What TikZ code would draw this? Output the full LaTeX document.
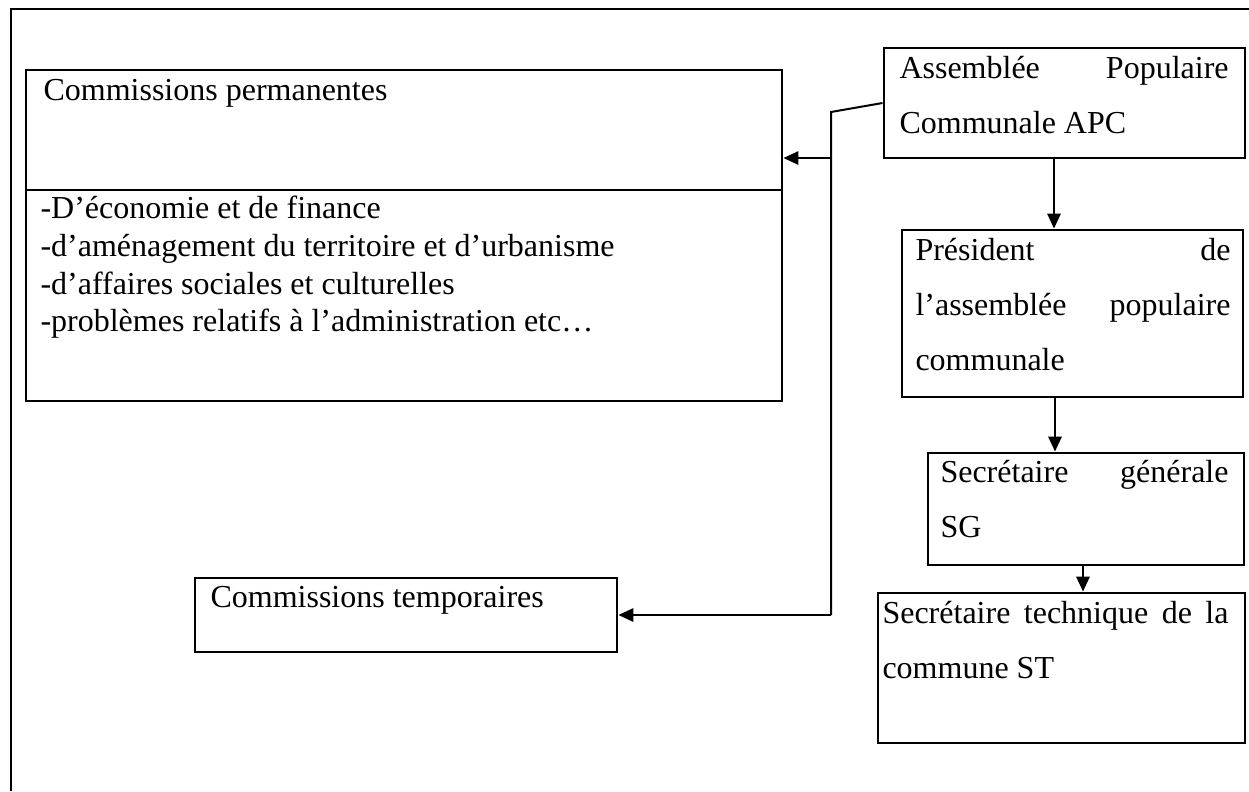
\documentclass[tikz,border=0pt]{standalone}
\usepackage{fontspec}
\setmainfont{Liberation Serif}
\usetikzlibrary{arrows.meta,fit}
\tolerance=10000
\hbadness=10000

\begin{document}
\begin{tikzpicture}[x=0.375pt,y=-0.375pt]
   \tikzstyle{box}=[draw, line width=1.1pt, inner sep=0pt]
   \tikzstyle{txt}=[inner sep=0pt, anchor=base west, font=\fontsize{12}{13.8}\selectfont]
   \tikzstyle{para}=[inner sep=0pt, anchor=north west, align=flush left, font=\fontsize{12}{20.5}\selectfont]
   \tikzstyle{wire}=[line width=0.75pt]
   \tikzstyle{link}=[line width=0.75pt, -{Triangle[length=5.6pt,width=5pt]}]

\useasboundingbox (0,0) rectangle (1249,791);

% frame
\draw[line width=1.1pt] (11,791) -- (11,9) -- (1249,9);

% boxes
\node[box, fit={(26,70) (782,401)}] (perm) {};
\draw[line width=1.1pt] (perm.west |- 0,190) -- (perm.east |- 0,190);
\node[box, fit={(195,578) (617,652)}] (ctemp) {};
\node[box, fit={(884,48) (1245,158)}] (apc) {};
\node[box, fit={(902,230) (1243,397)}] (pres) {};
\node[box, fit={(928,453) (1244,565)}] (sg) {};
\node[box, fit={(878,593) (1245,743)}] (st) {};

% texts
\node[txt] (permtitle) at (43,100) {Commissions permanentes};
\node[txt] (perm1) at (40,218) {-D’économie et de finance};
\node[txt] (perm2) at (40,256) {-d’aménagement du territoire et d’urbanisme};
\node[txt] (perm3) at (40,294) {-d’affaires sociales et culturelles};
\node[txt] (perm4) at (40,331) {-problèmes relatifs à l’administration etc…};
\node[txt] (ctemptitle) at (210,607) {Commissions temporaires};

\node[para, text width=123.4pt] (apctext) at (899,56)
    {Assemblée \hfill Populaire\\ Communale APC};
\node[para, text width=118.1pt] (prestext) at (915,238)
    {Président \hfill de\\ l’assemblée \hfill populaire\\ communale};
\node[para, text width=108pt] (sgtext) at (940,460)
    {Secrétaire \hfill générale\\ SG};
\node[para, text width=129.75pt] (sttext) at (882,601)
    {Secrétaire \hfill technique \hfill de \hfill la\\ commune ST};

% connectors
\coordinate (bus) at (831,112);
\draw[wire] (apc.west) -- (bus) -- (bus |- ctemp.east);
\draw[link] (bus |- 0,158) -- (perm.east |- 0,158);
\draw[link] (bus |- ctemp.east) -- (ctemp.east);

\draw[link] (1054,0 |- apc.south) -- (1054,0 |- pres.north);
\draw[link] (1055,0 |- pres.south) -- (1055,0 |- sg.north);
\draw[link] (1083,0 |- sg.south) -- (1083,0 |- st.north);

\end{tikzpicture}
\end{document}
